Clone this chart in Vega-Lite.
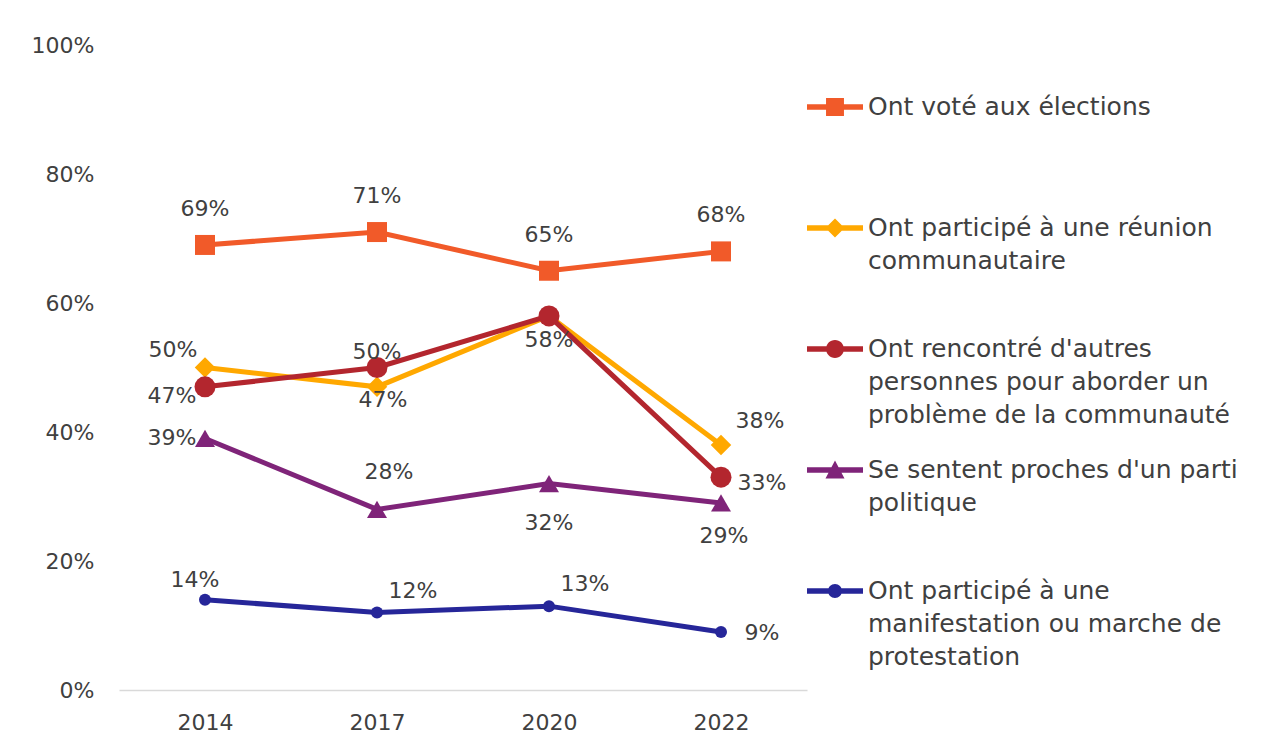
{
  "$schema": "https://vega.github.io/schema/vega-lite/v6.json",
  "width": 688,
  "height": 645,
  "autosize": {"type": "none"},
  "padding": {"left": 119, "top": 45, "right": 464, "bottom": 55},
  "background": "white",
  "config": {
    "view": {"stroke": null},
    "style": {"guide-label": {"lineHeight": 33}},
    "text": {"font": "DejaVu Sans", "fontSize": 22, "color": "#404040"}
  },
  "data": {
    "values": [
      {"id": "vote", "series": "Ont voté aux élections", "year": "2014", "value": 0.69},
      {"id": "vote", "series": "Ont voté aux élections", "year": "2017", "value": 0.71},
      {"id": "vote", "series": "Ont voté aux élections", "year": "2020", "value": 0.65},
      {"id": "vote", "series": "Ont voté aux élections", "year": "2022", "value": 0.68},
      {"id": "reunion", "series": "Ont participé à une réunion communautaire", "year": "2014", "value": 0.50},
      {"id": "reunion", "series": "Ont participé à une réunion communautaire", "year": "2017", "value": 0.47},
      {"id": "reunion", "series": "Ont participé à une réunion communautaire", "year": "2020", "value": 0.58},
      {"id": "reunion", "series": "Ont participé à une réunion communautaire", "year": "2022", "value": 0.38},
      {"id": "rencontre", "series": "Ont rencontré d'autres personnes pour aborder un problème de la communauté", "year": "2014", "value": 0.47},
      {"id": "rencontre", "series": "Ont rencontré d'autres personnes pour aborder un problème de la communauté", "year": "2017", "value": 0.50},
      {"id": "rencontre", "series": "Ont rencontré d'autres personnes pour aborder un problème de la communauté", "year": "2020", "value": 0.58},
      {"id": "rencontre", "series": "Ont rencontré d'autres personnes pour aborder un problème de la communauté", "year": "2022", "value": 0.33},
      {"id": "proches", "series": "Se sentent proches d'un parti politique", "year": "2014", "value": 0.39},
      {"id": "proches", "series": "Se sentent proches d'un parti politique", "year": "2017", "value": 0.28},
      {"id": "proches", "series": "Se sentent proches d'un parti politique", "year": "2020", "value": 0.32},
      {"id": "proches", "series": "Se sentent proches d'un parti politique", "year": "2022", "value": 0.29},
      {"id": "manif", "series": "Ont participé à une manifestation ou marche de protestation", "year": "2014", "value": 0.14},
      {"id": "manif", "series": "Ont participé à une manifestation ou marche de protestation", "year": "2017", "value": 0.12},
      {"id": "manif", "series": "Ont participé à une manifestation ou marche de protestation", "year": "2020", "value": 0.13},
      {"id": "manif", "series": "Ont participé à une manifestation ou marche de protestation", "year": "2022", "value": 0.09}
    ]
  },
  "encoding": {
    "x": {
      "field": "year", "type": "ordinal",
      "scale": {"type": "point", "padding": 0.5},
      "axis": {"title": null, "labelAngle": 0, "ticks": false, "domainColor": "#D9D9D9", "domainWidth": 1.5, "labelFont": "DejaVu Sans", "labelFontSize": 22, "labelColor": "#404040", "labelPadding": 22, "grid": false}
    },
    "y": {
      "field": "value", "type": "quantitative",
      "scale": {"domain": [0, 1], "nice": false, "zero": true},
      "axis": {"title": null, "values": [0, 0.2, 0.4, 0.6, 0.8, 1], "format": ".0%", "ticks": false, "domain": false, "grid": false, "labelFont": "DejaVu Sans", "labelFontSize": 22, "labelColor": "#404040", "labelPadding": 25}
    }
  },
  "layer": [
    {"transform": [{"filter": "datum.id == 'vote'"}], "mark": {"type": "line", "strokeWidth": 5, "color": "#F15A29"}, "encoding": {}},
    {"transform": [{"filter": "datum.id == 'vote'"}], "mark": {"type": "point", "shape": "square", "filled": true, "opacity": 1, "size": 400, "color": "#F15A29"}},
    {"transform": [{"filter": "datum.id == 'reunion'"}], "mark": {"type": "line", "strokeWidth": 5, "color": "#FFA800"}, "encoding": {}},
    {"transform": [{"filter": "datum.id == 'reunion'"}], "mark": {"type": "point", "shape": "diamond", "filled": true, "opacity": 1, "size": 420, "color": "#FFA800"}},
    {"transform": [{"filter": "datum.id == 'rencontre'"}], "mark": {"type": "line", "strokeWidth": 5, "color": "#B3262E"}, "encoding": {}},
    {"transform": [{"filter": "datum.id == 'rencontre'"}], "mark": {"type": "point", "shape": "circle", "filled": true, "opacity": 1, "size": 441, "color": "#B3262E"}},
    {"transform": [{"filter": "datum.id == 'proches'"}], "mark": {"type": "line", "strokeWidth": 5, "color": "#7F2479"}, "encoding": {}},
    {"transform": [{"filter": "datum.id == 'proches'"}], "mark": {"type": "point", "shape": "triangle-up", "filled": true, "opacity": 1, "size": 400, "color": "#7F2479"}},
    {"transform": [{"filter": "datum.id == 'manif'"}], "mark": {"type": "line", "strokeWidth": 5, "color": "#262699"}, "encoding": {}},
    {"transform": [{"filter": "datum.id == 'manif'"}], "mark": {"type": "point", "shape": "circle", "filled": true, "opacity": 1, "size": 144, "color": "#262699"}},
    {
      "mark": {"type": "point", "filled": true, "opacity": 0, "size": 10},
      "encoding": {
        "color": {"field": "series", "type": "nominal",
          "scale": {"domain": ["Ont voté aux élections", "Ont participé à une réunion communautaire", "Ont rencontré d'autres personnes pour aborder un problème de la communauté", "Se sentent proches d'un parti politique", "Ont participé à une manifestation ou marche de protestation"],
                    "range": ["#F15A29", "#FFA800", "#B3262E", "#7F2479", "#262699"]},
          "legend": {"title": null, "orient": "none", "legendX": 688, "legendY": 34, "padding": 0, "symbolSize": 3136, "symbolStrokeWidth": 0, "symbolOpacity": 1, "labelFont": "DejaVu Sans", "labelFontSize": 25, "labelColor": "#404040", "labelOffset": 5, "labelLimit": 600, "labelBaseline": "middle", "gridAlign": "all", "rowPadding": 14,
            "labelExpr": "datum.label == 'Ont participé à une réunion communautaire' ? ['Ont participé à une réunion', 'communautaire'] : indexof(datum.label, 'rencontr') >= 0 ? [\"Ont rencontré d'autres\", 'personnes pour aborder un', 'problème de la communauté'] : indexof(datum.label, 'proches') >= 0 ? [\"Se sentent proches d'un parti\", 'politique'] : indexof(datum.label, 'manifestation') >= 0 ? ['Ont participé à une', 'manifestation ou marche de', 'protestation'] : datum.label"}},
        "shape": {"field": "series", "type": "nominal",
          "scale": {"domain": ["Ont voté aux élections", "Ont participé à une réunion communautaire", "Ont rencontré d'autres personnes pour aborder un problème de la communauté", "Se sentent proches d'un parti politique", "Ont participé à une manifestation ou marche de protestation"],
                    "range": [
                      "M-1,-0.1L1,-0.1L1,0.1L-1,0.1Z M-0.32,-0.32L0.32,-0.32L0.32,0.32L-0.32,0.32Z",
                      "M-1,-0.1L1,-0.1L1,0.1L-1,0.1Z M0,-0.34L0.34,0L0,0.34L-0.34,0Z",
                      "M-1,-0.1L1,-0.1L1,0.1L-1,0.1Z M-0.32,0A0.32,0.32,0,1,1,0.32,0A0.32,0.32,0,1,1,-0.32,0Z",
                      "M-1,-0.1L1,-0.1L1,0.1L-1,0.1Z M0,-0.34L0.34,0.3L-0.34,0.3Z",
                      "M-1,-0.1L1,-0.1L1,0.1L-1,0.1Z M-0.25,0A0.25,0.25,0,1,1,0.25,0A0.25,0.25,0,1,1,-0.25,0Z"
                    ]},
          "legend": {"title": null, "orient": "none", "legendX": 688, "legendY": 34, "padding": 0, "symbolSize": 3136, "symbolStrokeWidth": 0, "symbolOpacity": 1, "labelFont": "DejaVu Sans", "labelFontSize": 25, "labelColor": "#404040", "labelOffset": 5, "labelLimit": 600, "labelBaseline": "middle", "gridAlign": "all", "rowPadding": 14,
            "labelExpr": "datum.label == 'Ont participé à une réunion communautaire' ? ['Ont participé à une réunion', 'communautaire'] : indexof(datum.label, 'rencontr') >= 0 ? [\"Ont rencontré d'autres\", 'personnes pour aborder un', 'problème de la communauté'] : indexof(datum.label, 'proches') >= 0 ? [\"Se sentent proches d'un parti\", 'politique'] : indexof(datum.label, 'manifestation') >= 0 ? ['Ont participé à une', 'manifestation ou marche de', 'protestation'] : datum.label"}}
      }
    },
    {"transform": [{"filter": "datum.id == 'vote'"}], "mark": {"type": "text", "dx": 0, "dy": -36}, "encoding": {"text": {"field": "value", "format": ".0%"}}},
    {"transform": [{"filter": "datum.id == 'rencontre' && datum.year == '2017'"}], "mark": {"type": "text", "dx": 0, "dy": -16}, "encoding": {"text": {"field": "value", "format": ".0%"}}},
    {"transform": [{"filter": "datum.id == 'proches' && datum.year == '2017'"}], "mark": {"type": "text", "dx": 12, "dy": -37}, "encoding": {"text": {"field": "value", "format": ".0%"}}},
    {"transform": [{"filter": "datum.id == 'reunion' && datum.year == '2014'"}], "mark": {"type": "text", "dx": -32, "dy": -18}, "encoding": {"text": {"field": "value", "format": ".0%"}}},
    {"transform": [{"filter": "datum.id == 'rencontre' && datum.year == '2014'"}], "mark": {"type": "text", "dx": -33, "dy": 9}, "encoding": {"text": {"field": "value", "format": ".0%"}}},
    {"transform": [{"filter": "datum.id == 'proches' && datum.year == '2014'"}], "mark": {"type": "text", "dx": -33, "dy": 0}, "encoding": {"text": {"field": "value", "format": ".0%"}}},
    {"transform": [{"filter": "datum.id == 'reunion' && datum.year == '2017'"}], "mark": {"type": "text", "dx": 6, "dy": 13}, "encoding": {"text": {"field": "value", "format": ".0%"}}},
    {"transform": [{"filter": "datum.id == 'reunion' && datum.year == '2020'"}], "mark": {"type": "text", "dx": 0, "dy": 24}, "encoding": {"text": {"field": "value", "format": ".0%"}}},
    {"transform": [{"filter": "datum.id == 'proches' && datum.year == '2020'"}], "mark": {"type": "text", "dx": 0, "dy": 39}, "encoding": {"text": {"field": "value", "format": ".0%"}}},
    {"transform": [{"filter": "datum.id == 'proches' && datum.year == '2022'"}], "mark": {"type": "text", "dx": 3, "dy": 33}, "encoding": {"text": {"field": "value", "format": ".0%"}}},
    {"transform": [{"filter": "datum.id == 'reunion' && datum.year == '2022'"}], "mark": {"type": "text", "dx": 39, "dy": -24}, "encoding": {"text": {"field": "value", "format": ".0%"}}},
    {"transform": [{"filter": "datum.id == 'rencontre' && datum.year == '2022'"}], "mark": {"type": "text", "dx": 41, "dy": 6}, "encoding": {"text": {"field": "value", "format": ".0%"}}},
    {"transform": [{"filter": "datum.id == 'manif' && datum.year == '2014'"}], "mark": {"type": "text", "dx": -10, "dy": -20}, "encoding": {"text": {"field": "value", "format": ".0%"}}},
    {"transform": [{"filter": "datum.id == 'manif' && (datum.year == '2017' || datum.year == '2020')"}], "mark": {"type": "text", "dx": 36, "dy": -22}, "encoding": {"text": {"field": "value", "format": ".0%"}}},
    {"transform": [{"filter": "datum.id == 'manif' && datum.year == '2022'"}], "mark": {"type": "text", "dx": 41, "dy": 1}, "encoding": {"text": {"field": "value", "format": ".0%"}}}
  ]
}
